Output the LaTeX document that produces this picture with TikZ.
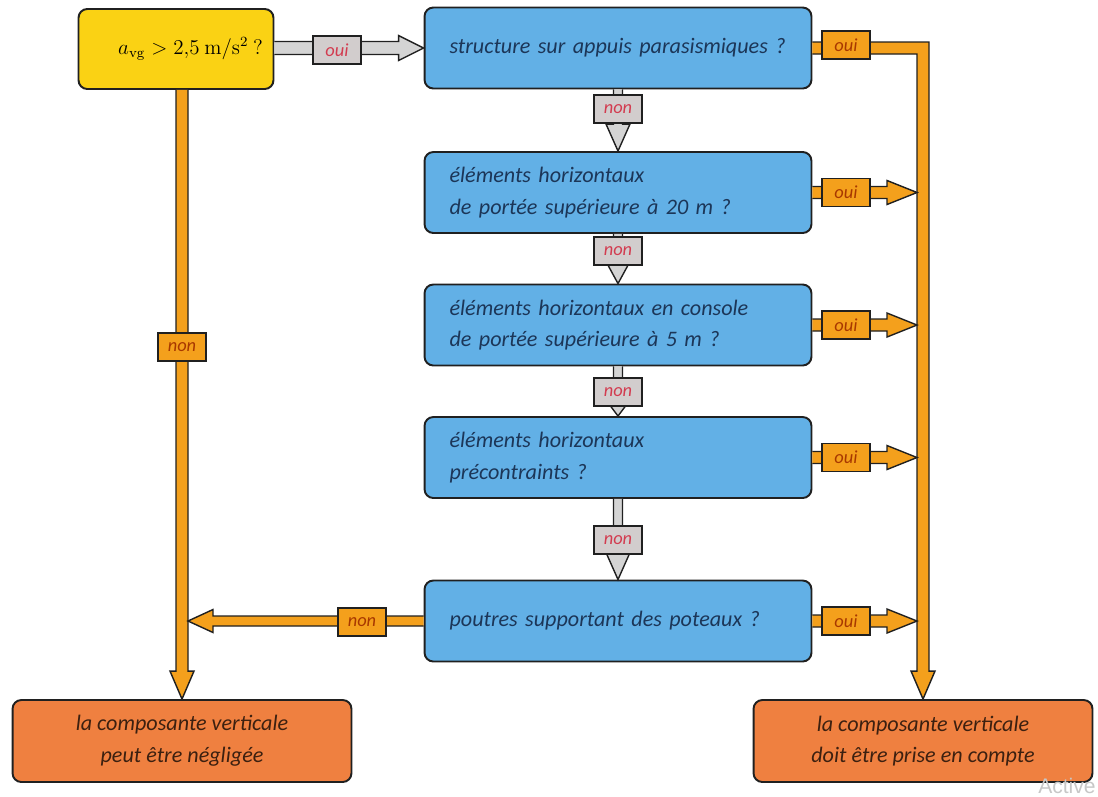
\documentclass[tikz,border=0pt]{standalone}
\usepackage[no-math]{fontspec}
\setmainfont{Carlito}
\newfontfamily\wmfont{Liberation Sans}
\usetikzlibrary{calc}
\definecolor{cyel}{HTML}{FAD214}
\definecolor{cblue}{HTML}{62B0E6}
\definecolor{corg}{HTML}{F4A01C}
\definecolor{cbox}{HTML}{EF8040}
\definecolor{cgray}{HTML}{D4D4D4}
\definecolor{cglab}{HTML}{D2CDCD}
\definecolor{cred}{HTML}{D23C50}
\definecolor{cnavy}{HTML}{1C3658}
\definecolor{cbrown}{HTML}{3C2010}
\definecolor{clabt}{HTML}{A83800}
\definecolor{cline}{HTML}{202020}
% fat arrows: #1 style, #2 start, #3 tip, #4 shaft half width, #5 head half width, #6 head length
\newcommand\arrR[6]{\filldraw[#1] ($(#2)+(0,#4)$) -- ($(#3)+(-#6,#4)$) -- ($(#3)+(-#6,#5)$) -- (#3) -- ($(#3)+(-#6,-#5)$) -- ($(#3)+(-#6,-#4)$) -- ($(#2)+(0,-#4)$);}
\newcommand\arrL[6]{\filldraw[#1] ($(#2)+(0,#4)$) -- ($(#3)+(#6,#4)$) -- ($(#3)+(#6,#5)$) -- (#3) -- ($(#3)+(#6,-#5)$) -- ($(#3)+(#6,-#4)$) -- ($(#2)+(0,-#4)$);}
\newcommand\arrD[6]{\filldraw[#1] ($(#2)+(-#4,0)$) -- ($(#3)+(-#4,-#6)$) -- ($(#3)+(-#5,-#6)$) -- (#3) -- ($(#3)+(#5,-#6)$) -- ($(#3)+(#4,-#6)$) -- ($(#2)+(#4,0)$);}
\begin{document}
\begin{tikzpicture}[x=0.02cm,y=-0.02cm,
  box/.style={draw=cline, line width=1.1pt, rounded corners=5pt, inner ysep=0pt},
  txt/.style={font=\fontsize{12.6}{18}\selectfont\itshape},
  ybox/.style={box, fill=cyel, minimum width=3.9cm, minimum height=1.6cm, inner xsep=2pt, font=\fontsize{11.8}{14}\selectfont},
  qbox/.style={box, txt, fill=cblue, text=cnavy, minimum width=7.74cm, minimum height=1.62cm, text width=6.74cm, inner xsep=0.5cm, align=left},
  rbox/.style={box, txt, fill=cbox, text=cbrown, minimum width=6.78cm, minimum height=1.64cm, align=center},
  garr/.style={fill=cgray, draw=cline, line width=0.8pt},
  oarr/.style={fill=corg, draw=cline, line width=0.8pt},
  lab/.style={draw=cline, line width=0.8pt, minimum width=0.96cm, minimum height=0.56cm, inner sep=0pt, font=\fontsize{10.5}{12}\selectfont\itshape},
  glab/.style={lab, fill=cglab, text=cred},
  olab/.style={lab, fill=corg, text=clabt}]
\useasboundingbox (0,0) rectangle (1098,796);

% boxes
\node[ybox] (yb) at (176,49) {\hspace{1.4em}$a_{\mathrm{vg}} > 2{,}5\ \mathrm{m/s^2\ ?}$};
\node[qbox] (b1) at (618,48) {structure sur appuis parasismiques ?};
\node[qbox] (b2) at (618,192.5) {éléments horizontaux\\de portée supérieure à 20 m ?};
\node[qbox] (b3) at (618,325) {éléments horizontaux en console\\de portée supérieure à 5 m ?};
\node[qbox] (b4) at (618,457.5) {éléments horizontaux\\précontraints ?};
\node[qbox] (b5) at (618,621) {poutres supportant des poteaux ?};
\node[rbox] (bl) at (182,741) {la composante verticale\\peut être négligée};
\node[rbox] (br) at (923,741) {la composante verticale\\doit être prise en compte};

% helper coordinates
\coordinate (ls) at (yb.south -| bl.north);
\coordinate (ts) at (yb.east |- b1.west);
\coordinate (c1) at (b1.east -| br.north);
\coordinate (t2) at ($(b2.east -| br.north)+(-6,0)$);
\coordinate (t3) at ($(b3.east -| br.north)+(-6,0)$);
\coordinate (t4) at ($(b4.east -| br.north)+(-6,0)$);
\coordinate (t5) at ($(b5.east -| br.north)+(-6,0)$);
\coordinate (lt) at ($(b5.west -| bl.north)+(6,0)$);

% grey arrows
\arrR{garr}{ts}{b1.west}{6.5}{12.5}{25}
\arrD{garr}{b1.south}{b2.north}{4.5}{12}{27}
\arrD{garr}{b2.south}{b3.north}{4.5}{12}{22}
\arrD{garr}{b3.south}{b4.north}{4.5}{12}{16}
\arrD{garr}{b4.south}{b5.north}{4.5}{12}{27}

% orange arrows
\arrD{oarr}{ls}{bl.north}{6}{12}{28}
\filldraw[oarr] ($(b1.east)+(0,-6)$) -- ($(c1)+(6,-6)$) -- ($(br.north)+(6,-28)$) -- ($(br.north)+(12,-28)$) -- (br.north) -- ($(br.north)+(-12,-28)$) -- ($(br.north)+(-6,-28)$) -- ($(c1)+(-6,6)$) -- ($(b1.east)+(0,6)$);
\arrR{oarr}{b2.east}{t2}{6}{12}{30}
\arrR{oarr}{b3.east}{t3}{6}{12}{30}
\arrR{oarr}{b4.east}{t4}{6}{12}{30}
\arrR{oarr}{b5.east}{t5}{6}{12}{30}
\arrL{oarr}{b5.west}{lt}{5}{11.5}{25}

% labels
\node[glab] (l0) at (337,50) {oui};
\node[glab] (n1) at (618,109) {non};
\node[glab] (n2) at (618,251) {non};
\node[glab] (n3) at (618,392) {non};
\node[glab] (n4) at (618,540) {non};
\node[olab] (o1) at (846,45) {oui};
\node[olab] (o2) at (846,192.5) {oui};
\node[olab] (o3) at (846,325) {oui};
\node[olab] (o4) at (846,457.5) {oui};
\node[olab] (o5) at (846,621) {oui};
\node[olab] (nl) at (182,347) {non};
\node[olab] (n5) at (362,622) {non};

% watermark fragment
\node[anchor=south east, inner sep=0pt, text=black!22, font=\wmfont\fontsize{12}{12}\selectfont] (wm) at (1096,794) {Active};
\end{tikzpicture}
\end{document}
